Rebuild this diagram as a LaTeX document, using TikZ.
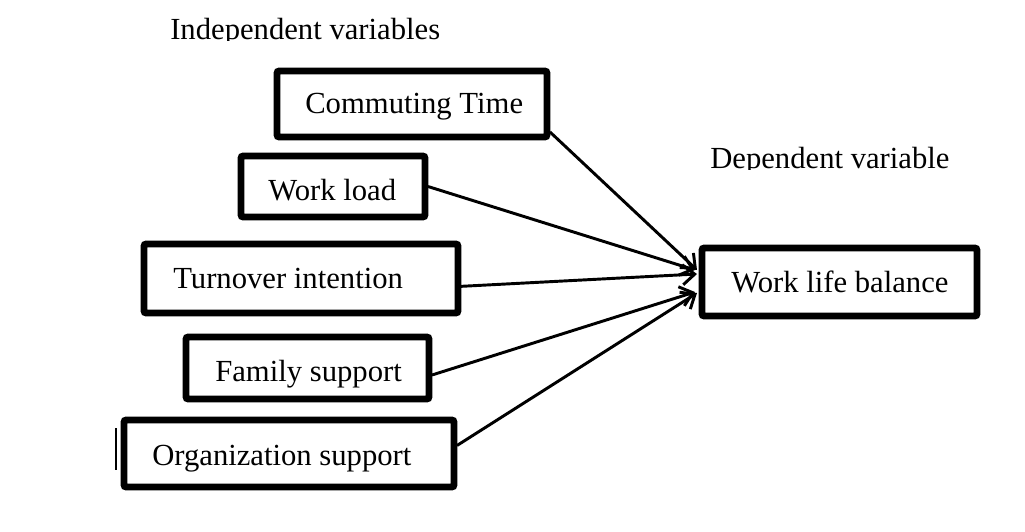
\documentclass[tikz,border=0pt]{standalone}
\usepackage{fontspec}
\setmainfont{Liberation Serif}
\usetikzlibrary{arrows.meta,calc}
\begin{document}
\begin{tikzpicture}[x=0.75pt,y=-0.75pt,
  box/.style={draw,line width=5pt,rounded corners=1.5pt,inner sep=0pt,outer sep=0pt},
  lbl/.style={anchor=base west,inner sep=0pt,font=\fontsize{23pt}{27pt}\selectfont},
  conn/.style={line width=2.2pt,-{Straight Barb[length=9pt,width=15pt,line width=2.2pt]}}]
\useasboundingbox[fill=white] (0,0) rectangle (1025,532);
% boxes
\node[box,minimum width={270*0.75pt},minimum height={66*0.75pt}] (ct) at (412,104) {};
\node[box,minimum width={184*0.75pt},minimum height={61*0.75pt}] (wl) at (333,186.5) {};
\node[box,minimum width={314*0.75pt},minimum height={69*0.75pt}] (ti) at (301,278.5) {};
\node[box,minimum width={243*0.75pt},minimum height={62*0.75pt}] (fs) at (307.5,368) {};
\node[box,minimum width={330*0.75pt},minimum height={67*0.75pt}] (os) at (289,453.5) {};
\node[box,minimum width={275*0.75pt},minimum height={68*0.75pt}] (wlb) at (839.5,282) {};
% labels
\node[lbl] (tct) at (305,113) {Commuting Time};
\node[lbl] (twl) at (268,200) {Work load};
\node[lbl] (tti) at (173,288) {Turnover intention};
\node[lbl] (tfs) at (215,381) {Family support};
\node[lbl] (tos) at (152,465) {Organization support};
\node[lbl] (twlb) at (731,292) {Work life balance};
\begin{scope}
\clip (0,0) rectangle (1025,40);
\node[lbl] (indep) at (170,39) {Independent variables};
\end{scope}
\begin{scope}
\clip (600,100) rectangle (1025,169);
\node[lbl] (dep) at (710,168) {Dependent variable};
\end{scope}
% stray mark
\coordinate (m1) at (116,428);
\coordinate (m2) at (116,470);
\draw[line width=1.1pt] (m1) -- (m2);
% connectors
\draw[conn] ($(ct.east)+(3,28)$) -- ($(wlb.west)+(-5,-12)$);
\draw[conn] ($(wl.east)+(3,0)$) -- ($(wlb.west)+(-7,-12)$);
\draw[conn] ($(ti.east)+(0,8)$) -- ($(wlb.west)+(-5,-8)$);
\draw[conn] ($(fs.east)+(3,7)$) -- ($(wlb.west)+(-7,10)$);
\draw[conn] ($(os.east)+(3,-8)$) -- ($(wlb.west)+(-5,11)$);
\end{tikzpicture}
\end{document}
